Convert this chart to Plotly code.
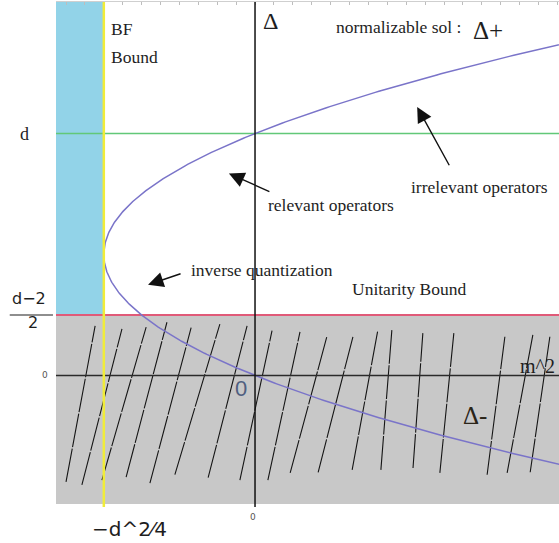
import numpy as np
import plotly.graph_objects as go

# Spacetime dimension used for the diagram
d = 4

# Conformal dimension samples for the two branches Delta(Delta - d) = m^2
delta_samples = np.linspace(-1.6, 5.6, 400)

# Hatching of the non-unitary region (segment endpoints in (m^2, Delta))
hatch_top_m2 = [-4.23, -3.52, -2.88, -2.33, -1.69, -0.93, -0.21, 0.45, 1.19,
                1.90, 2.59, 3.25, 3.62, 4.44, 5.26, 6.61, 7.35, 7.80]
hatch_top_delta = [0.82, 0.77, 0.80, 0.88, 0.79, 0.85, 0.82, 0.74, 0.72,
                   0.64, 0.64, 0.75, 0.75, 0.70, 0.70, 0.64, 0.67, 0.64]
hatch_bot_m2 = [-5.00, -4.58, -4.05, -3.41, -2.78, -2.12, -1.24, -0.40, 0.34,
                0.93, 1.67, 2.57, 3.33, 4.18, 4.89, 6.14, 6.67, 7.28]
hatch_bot_delta = [-1.76, -1.81, -1.73, -1.68, -1.78, -1.64, -1.69, -1.73, -1.73,
                   -1.61, -1.60, -1.56, -1.56, -1.53, -1.61, -1.64, -1.61, -1.60]

bf_bound = -d ** 2 / 4          # Breitenlohner-Freedman bound on m^2
unitarity = (d - 2) / 2         # unitarity bound on Delta
x_range = [-5.265, 8.042]
y_range = [-2.174, 6.174]

m2_curve = delta_samples * (delta_samples - d)

serif = "Liberation Serif"
sans = "DejaVu Sans"
ink = "#1e1e1e"
txt = 17.5

fig = go.Figure()

# hatch segments
hx, hy = [], []
for xt, yt, xb, yb in zip(hatch_top_m2, hatch_top_delta, hatch_bot_m2, hatch_bot_delta):
    hx += [xb, xt, None]
    hy += [yb, yt, None]
fig.add_trace(go.Scatter(x=hx, y=hy, mode="lines",
                         line=dict(color="#151515", width=1.1, dash="34px,1.5px"),
                         hoverinfo="skip", showlegend=False))

# Delta+ / Delta- branches
fig.add_trace(go.Scatter(x=m2_curve, y=delta_samples, mode="lines",
                         line=dict(color="#7a74c9", width=1.5),
                         hoverinfo="skip", showlegend=False))

# off-screen trace carrying the top tick axis
fig.add_trace(go.Scatter(x=x_range, y=[-50, -50], xaxis="x2", mode="lines",
                         line=dict(width=0), hoverinfo="skip", showlegend=False))

shapes = [
    # non-unitary region
    dict(type="rect", xref="x", yref="y", x0=x_range[0], x1=x_range[1],
         y0=-2.124, y1=unitarity, fillcolor="#c8c8c8", line_width=0, layer="below"),
    # region below the BF bound
    dict(type="rect", xref="x", yref="y", x0=x_range[0], x1=bf_bound,
         y0=unitarity, y1=y_range[1], fillcolor="#92d3e8", line_width=0, layer="below"),
    # Delta = d
    dict(type="line", xref="x", yref="y", x0=x_range[0], x1=x_range[1], y0=d, y1=d,
         line=dict(color="#62c878", width=1.5), layer="below"),
    # unitarity bound
    dict(type="line", xref="x", yref="y", x0=x_range[0], x1=x_range[1],
         y0=unitarity, y1=unitarity, line=dict(color="#e05a78", width=2), layer="below"),
    # m^2 axis
    dict(type="line", xref="x", yref="y", x0=-5.33, x1=x_range[1], y0=0, y1=0,
         line=dict(color="#2a2a2a", width=1.5)),
    # Delta axis
    dict(type="line", xref="x", yref="y", x0=0, x1=0, y0=y_range[0], y1=y_range[1],
         line=dict(color="#111111", width=1.5)),
    # BF bound
    dict(type="line", xref="x", yref="y", x0=bf_bound, x1=bf_bound,
         y0=y_range[0], y1=y_range[1], line=dict(color="#f0ec3a", width=2.5)),
    # fraction bar of (d-2)/2
    dict(type="line", xref="paper", yref="y", x0=-0.092, x1=-0.006,
         y0=unitarity, y1=unitarity, line=dict(color=ink, width=1.2)),
]


def label(x, y, text, size=txt, family=serif, color=ink, xanchor="center", **kw):
    return dict(x=x, y=y, xref=kw.pop("xref", "x"), yref=kw.pop("yref", "y"),
                text=text, showarrow=False, xanchor=xanchor, yanchor="middle",
                font=dict(family=family, size=size, color=color), **kw)


def arrow(x_head, y_head, x_tail, y_tail):
    return dict(x=x_head, y=y_head, ax=x_tail, ay=y_tail, xref="x", yref="y",
                axref="x", ayref="y", text="", showarrow=True, arrowhead=2,
                arrowsize=2.2, arrowwidth=1.4, arrowcolor="#111111")


annotations = [
    label(-3.85, 5.72, "BF", xanchor="left"),
    label(-3.85, 5.27, "Bound", xanchor="left"),
    label(0.40, 5.86, "Δ", size=24),
    label(2.10, 5.76, "normalizable sol :", xanchor="left"),
    label(5.72, 5.71, "Δ+", size=25, xanchor="left"),
    label(5.95, 3.12, "irrelevant operators"),
    label(2.01, 2.82, "relevant operators"),
    label(0.19, 1.74, "inverse quantization"),
    label(4.07, 1.43, "Unitarity Bound"),
    label(6.96, 0.16, "m^2", size=20, xanchor="left"),
    label(-0.37, -0.21, "0", size=22, family="Liberation Sans", color="#4f5f80"),
    label(5.82, -0.66, "Δ-", size=25, color="#2a2418"),
    # left-hand tick labels
    label(-0.062, d, "d", size=18, xref="paper"),
    label(-0.053, unitarity + 0.27, "d−2", size=16, family=sans, xref="paper"),
    label(-0.045, unitarity - 0.12, "2", size=16, family=sans, xref="paper"),
    label(-0.022, 0, "0", size=9, family=sans, color="#555555", xref="paper"),
    # bottom tick labels
    dict(x=-3.33, y=-0.016, xref="x", yref="paper", text="−d^2⁄4",
         showarrow=False, yanchor="top", font=dict(family=sans, size=20, color=ink)),
    dict(x=-0.05, y=-0.005, xref="x", yref="paper", text="0",
         showarrow=False, yanchor="top", font=dict(family=sans, size=9, color="#555555")),
    # arrows
    arrow(4.29, 4.44, 5.16, 3.45),
    arrow(-0.69, 3.34, 0.42, 3.03),
    arrow(-2.83, 1.50, -1.93, 1.69),
]

fig.update_layout(
    width=559, height=543,
    margin=dict(l=56, r=0, t=2, b=36),
    paper_bgcolor="white", plot_bgcolor="white",
    showlegend=False,
    shapes=shapes, annotations=annotations,
    xaxis=dict(range=x_range, showgrid=False, zeroline=False, showticklabels=False,
               ticks="", showline=False, fixedrange=True),
    xaxis2=dict(range=x_range, overlaying="x", side="top", showgrid=False,
                zeroline=False, showticklabels=False, showline=True,
                linecolor="#cfcfcf", linewidth=1, ticks="inside", ticklen=3,
                tickcolor="#bdbdbd", dtick=0.5, tick0=0),
    yaxis=dict(range=y_range, showgrid=False, zeroline=False, showticklabels=False,
               ticks="", showline=False, fixedrange=True),
)

fig.write_html("out.html")
